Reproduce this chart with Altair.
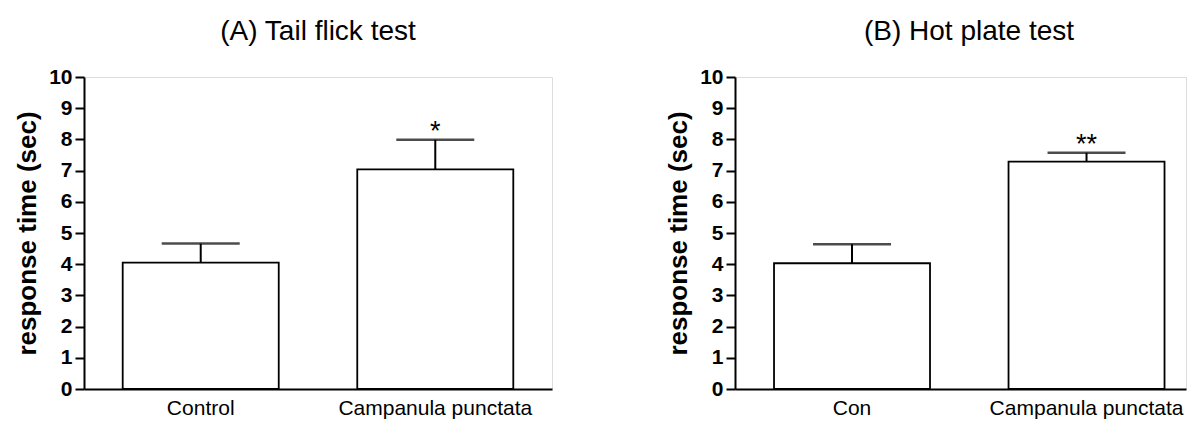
import altair as alt
import pandas as pd

FONT = "Liberation Sans"

# Panel A: tail flick test
groups_a = ["Control", "Campanula punctata"]
mean_a = [4.05, 7.04]
sem_a = [0.61, 0.95]
sig_a = ["", "*"]

# Panel B: hot plate test
groups_b = ["Con", "Campanula punctata"]
mean_b = [4.03, 7.29]
sem_b = [0.61, 0.28]
sig_b = ["", "**"]

y_ticks = [0.0, 1.0, 2.0, 3.0, 4.0, 5.0, 6.0, 7.0, 8.0, 9.0, 10.0]


def panel(title, groups, mean, sem, sig, width, scale_kw, title_dx):
    df = pd.DataFrame({
        "group": groups,
        "mean": mean,
        "upper": [m + s for m, s in zip(mean, sem)],
        "sig": sig,
    })
    x_axis = alt.Axis(title=None, labelAngle=0, ticks=False, labelFontSize=21,
                      labelFont=FONT, labelPadding=8, labelColor="black",
                      labelLimit=0, labelOverlap=False,
                      domainWidth=2, domainColor="black")
    y_axis = alt.Axis(values=y_ticks, tickCount=11, title="response time (sec)",
                      format="d", titleFontSize=26,
                      titleFont=FONT, titleFontWeight="bold", titleColor="black",
                      titlePadding=8, labelFontSize=21, labelFontWeight="bold",
                      labelFont=FONT, labelColor="black", labelPadding=3,
                      labelOverlap=False,
                      tickSize=9, tickWidth=2, tickColor="black",
                      domainWidth=2, domainColor="black", grid=False)
    x_enc = alt.X("group:N", sort=groups, scale=alt.Scale(**scale_kw), axis=x_axis)
    y_scale = alt.Scale(domain=[0, 10], nice=False)
    base = alt.Chart(df)
    bars = base.mark_bar(fill="white", stroke="black", strokeWidth=1.8).encode(
        x=x_enc, y=alt.Y("mean:Q", scale=y_scale, axis=y_axis))
    stem = base.mark_rule(color="black", strokeWidth=2).encode(
        x=alt.X("group:N", sort=groups), y=alt.Y("mean:Q"), y2="upper:Q")
    cap = base.mark_tick(color="black", thickness=2.5, size=78).encode(
        x=alt.X("group:N", sort=groups), y=alt.Y("upper:Q"))
    star = base.mark_text(font=FONT, fontSize=27, baseline="alphabetic", color="black").encode(
        x=alt.X("group:N", sort=groups), y=alt.Y("upper:Q"), text="sig:N")
    return alt.layer(bars, stem, cap, star).properties(
        width=width, height=312,
        title=alt.TitleParams(title, font=FONT, fontSize=28, fontWeight="normal",
                              color="black", anchor="middle", frame="group",
                              offset=20, dx=title_dx),
    )


left = panel("(A) Tail flick test", groups_a, mean_a, sem_a, sig_a, 468,
             dict(paddingInner=0.3348, paddingOuter=0.165), 0)
right = panel("(B) Hot plate test", groups_b, mean_b, sem_b, sig_b, 451,
              dict(paddingInner=0.3348, paddingOuter=0.129, align=0.645), 8.5)

chart = alt.hconcat(left, right, spacing=112).properties(
    padding={"top": 9, "left": 6, "right": 0, "bottom": 0}
).configure_view(stroke=None).configure(background="white").configure_axisY(
    tickCount=11, labelOverlap=False
)

chart.save("out.html", embed_options={"renderer": "svg", "actions": False})
